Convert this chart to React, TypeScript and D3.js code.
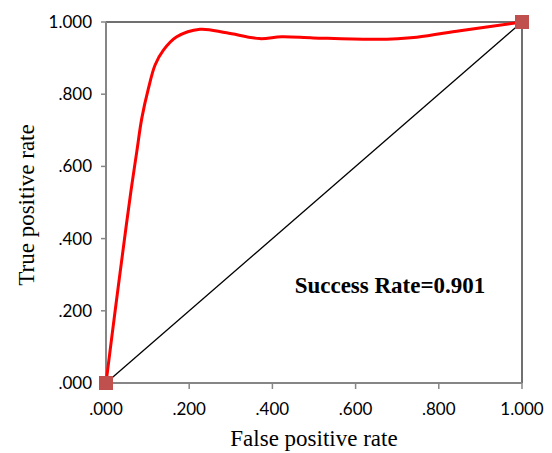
import React from "react";
import * as d3 from "d3";

const rocFpr = [0, 0.022, 0.048, 0.062, 0.074, 0.086, 0.102, 0.118, 0.138, 0.17, 0.226, 0.29, 0.369, 0.422, 0.498, 0.648, 0.747, 0.851, 1];
const rocTpr = [0, 0.2, 0.43, 0.548, 0.641, 0.733, 0.816, 0.881, 0.922, 0.959, 0.98, 0.97, 0.954, 0.959, 0.956, 0.952, 0.958, 0.976, 1];
const diagonal = [0, 1];
const xTicks = [0, 0.2, 0.4, 0.6, 0.8, 1];
const yTicks = [0, 0.2, 0.4, 0.6, 0.8, 1];
const annotation = "Success Rate=0.901";
const xTitle = "False positive rate";
const yTitle = "True positive rate";

const W = 552, H = 453;
const L = 106, R = 522, T = 22, B = 383;

const fmt = (v: number) => {
  const s = d3.format(".3f")(v);
  return s.startsWith("0.") ? s.slice(1) : s;
};

export default function App() {
  const x = d3.scaleLinear().domain([0, 1]).range([L, R]);
  const y = d3.scaleLinear().domain([0, 1]).range([B, T]);
  const pts = rocFpr.map((f, i) => [f, rocTpr[i]] as [number, number]);
  const line = d3
    .line<[number, number]>()
    .x((d) => x(d[0]))
    .y((d) => y(d[1]))
    .curve(d3.curveCatmullRom.alpha(0.5));
  const tickFont = "Lato, 'Open Sans', sans-serif";
  const serif = "'Liberation Serif', 'Times New Roman', serif";
  return (
    <svg width={W} height={H} style={{ position: "absolute", left: 0, top: 0 }}>
      <rect x={0} y={0} width={W} height={H} fill="#fff" />
      <line x1={L} y1={T} x2={R} y2={T} stroke="#404040" strokeWidth={1.5} />
      <line x1={R} y1={T} x2={R} y2={B} stroke="#404040" strokeWidth={1.5} />
      <line x1={L} y1={T} x2={L} y2={B} stroke="#868686" strokeWidth={2} />
      <line x1={L} y1={B} x2={R} y2={B} stroke="#868686" strokeWidth={2} />
      {yTicks.map((t) => (
        <g key={"y" + t}>
          <line x1={L - 5} x2={L} y1={y(t)} y2={y(t)} stroke="#868686" strokeWidth={1.5} />
          <text x={92} y={y(t)} dy="0.35em" textAnchor="end" fontFamily={tickFont} fontSize={17} fill="#000">
            {fmt(t)}
          </text>
        </g>
      ))}
      {xTicks.map((t) => (
        <g key={"x" + t}>
          <line x1={x(t)} x2={x(t)} y1={B} y2={B + 6} stroke="#868686" strokeWidth={1.5} />
          <text x={x(t)} y={415} textAnchor="middle" fontFamily={tickFont} fontSize={17} fill="#000">
            {fmt(t)}
          </text>
        </g>
      ))}
      <line
        x1={x(diagonal[0])}
        y1={y(diagonal[0])}
        x2={x(diagonal[1])}
        y2={y(diagonal[1])}
        stroke="#000"
        strokeWidth={1.3}
      />
      <path d={line(pts) || ""} fill="none" stroke="#ff0000" strokeWidth={3} />
      {diagonal.map((v) => (
        <rect key={"m" + v} x={x(v) - 7} y={y(v) - 7} width={14} height={14} fill="#c0504d" />
      ))}
      <text x={390} y={293} textAnchor="middle" fontFamily={serif} fontWeight="bold" fontSize={23} fill="#000">
        {annotation}
      </text>
      <text x={314} y={446} textAnchor="middle" fontFamily={serif} fontSize={23} fill="#000">
        {xTitle}
      </text>
      <text
        transform={`translate(34, 205) rotate(-90)`}
        textAnchor="middle"
        fontFamily={serif}
        fontSize={23}
        fill="#000"
      >
        {yTitle}
      </text>
    </svg>
  );
}
